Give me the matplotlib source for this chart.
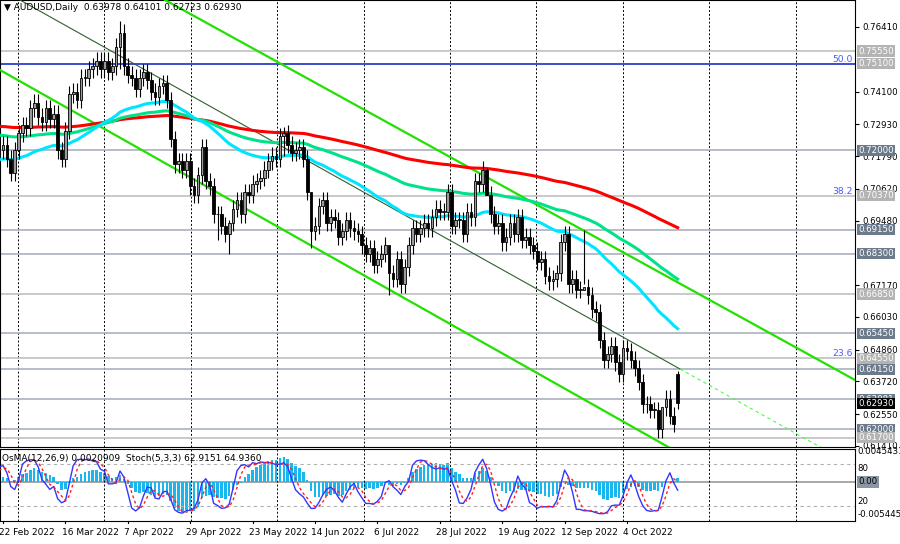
import numpy as np
import pandas as pd
import matplotlib
matplotlib.use("Agg")
import matplotlib.pyplot as plt
from matplotlib.patches import Rectangle

# ---------------- data ----------------
closes = [
 0.714,0.717,0.718,
 0.720,0.722,0.717,0.712,0.720,
 0.726,0.729,0.728,0.735,0.737,
 0.732,0.730,0.735,0.731,0.733,
 0.720,0.717,0.727,0.740,0.741,
 0.738,0.746,0.746,0.749,0.750,
 0.752,0.749,0.752,0.748,0.750,
 0.757,0.762,0.750,0.747,0.746,
 0.742,0.746,0.748,0.745,0.741,
 0.739,0.743,0.744,0.738,0.724,
 0.715,0.716,0.713,0.716,0.707,
 0.704,0.711,0.721,0.709,0.707,
 0.697,0.697,0.693,0.690,0.694,
 0.699,0.702,0.697,0.705,0.704,
 0.708,0.709,0.710,0.713,0.716,
 0.718,0.717,0.725,0.726,0.722,
 0.719,0.720,0.721,0.717,0.705,
 0.691,0.693,0.700,0.702,0.694,
 0.696,0.695,0.689,0.691,0.695,
 0.692,0.691,0.690,0.686,0.683,
 0.685,0.679,0.681,0.683,0.686,
 0.676,0.674,0.681,0.672,0.678,
 0.686,0.692,0.690,0.692,0.694,
 0.692,0.696,0.699,0.698,0.698,
 0.705,0.693,0.695,0.695,0.690,
 0.698,0.696,0.709,0.708,0.713,
 0.704,0.697,0.693,0.694,0.687,
 0.689,0.694,0.690,0.696,0.688,
 0.689,0.686,0.684,0.680,0.681,
 0.675,0.673,0.674,0.676,0.687,
 0.690,0.672,0.674,0.670,0.670,
 0.671,0.668,0.663,0.662,0.652,
 0.645,0.647,0.650,0.644,0.640,
 0.649,0.648,0.645,0.642,0.637,
 0.629,0.629,0.627,0.627,0.620,
 0.628,0.631,0.625,0.622,0.6293,
]
first_open = 0.712
last_ohlc = (0.63978, 0.64101, 0.62723, 0.62930)
wick_overrides = {34: (0.7661, 0.7490), 59: (0.7000, 0.6880), 62: (0.6950, 0.6829),
                  76: (0.7283, 0.7180), 83: (0.6920, 0.6850), 103: (0.6800, 0.6681),
                  128: (0.7137, 0.7040), 153: (0.6915, 0.6720), 173: (0.6280, 0.6170),
                  177: (0.64101, 0.62723)}

dates = pd.bdate_range("2022-02-16", periods=len(closes))
date_labels = ["22 Feb 2022","16 Mar 2022","7 Apr 2022","29 Apr 2022","23 May 2022",
               "14 Jun 2022","6 Jul 2022","28 Jul 2022","19 Aug 2022","12 Sep 2022","4 Oct 2022"]

price_ticks = [0.76410,0.74100,0.72930,0.71790,0.70620,0.69480,0.67170,0.66030,
               0.64860,0.63720,0.62550,0.61410]
levels_dark = [0.7200,0.6915,0.6830,0.6545,0.6415,0.63081,0.6200]
levels_light = [0.7555,0.7510,0.7037,0.6685,0.6455,0.6170]
fib = [("50.0",0.7510),("38.2",0.7037),("23.6",0.6455)]
ema_specs = [(200,0.729,"#ff0000"),(100,0.726,"#00e28a"),(50,0.7165,"#00e5ff")]

FS = 6.2

# --------------- derived OHLC ---------------
c = np.array(closes)
o = np.concatenate([[first_open], c[:-1]])
o[-1] = last_ohlc[0]
h = np.maximum(o, c) + 0.0030
l = np.minimum(o, c) - 0.0030
for k,(hh,ll) in wick_overrides.items():
    h[k] = hh; l[k] = ll
n = len(c); idx = np.arange(n)

def ema(x, span, seed):
    a = 2/(span+1); out = np.empty(len(x)); v = seed
    for i,val in enumerate(x):
        v = v + a*(val-v); out[i] = v
    return out

s = pd.Series(c)
macd = s.ewm(span=12, adjust=False).mean() - s.ewm(span=26, adjust=False).mean()
osma = (macd - macd.ewm(span=9, adjust=False).mean()).values
hh5 = pd.Series(h).rolling(5, min_periods=1).max(); ll5 = pd.Series(l).rolling(5, min_periods=1).min()
raw = 100*(s-ll5)/(hh5-ll5)
K = raw.rolling(3, min_periods=1).mean(); D = K.rolling(3, min_periods=1).mean()

# --------------- figure ---------------
W, H = 900, 544
plt.rcParams['font.family'] = ['DejaVu Sans']
fig = plt.figure(figsize=(9, 5.44), dpi=100)
ax = fig.add_axes([0, 1-447/H, 855/W, 447/H])
ax2 = fig.add_axes([0, 1-521/H, 855/W, 72/H])
px = 3.9
x0 = 4 - 3/px
xl = (x0, x0 + 855/px)
ylo, yhi = 0.7641-420/2793, 0.7641+27/2793
for a in (ax, ax2):
    a.set_xlim(*xl)
    for sp in a.spines.values(): sp.set_color("black"); sp.set_linewidth(0.8)
ax.set_ylim(ylo, yhi)

for gx in np.arange(18, 855, 86.4):
    xi = x0 + gx/px
    for a in (ax, ax2):
        a.axvline(xi, color="black", ls=(0,(2,2)), lw=0.7, zorder=0)

for lv in levels_dark + levels_light:
    ax.axhline(lv, color="#a9b2bc" if lv in levels_dark else "#c0c0c0", lw=1.2, zorder=1)
ax.axhline(0.7510, color="#3d4fd0", lw=1.4, zorder=1)
for t, v in fib:
    ax.text(853/px + x0, v, t, color="#4a5cff", fontsize=FS+0.5, ha="right", va="bottom")

def P(xp, yp):
    return x0 + xp/px, yhi - yp/2793
for (xa,ya,xb,yb) in [(0,70,670,448),(165,0,855,380)]:
    (a1,b1),(a2,b2) = P(xa,ya), P(xb,yb)
    ax.plot([a1,a2],[b1,b2], color="#22e000", lw=1.6, zorder=3)
(a1,b1),(a2,b2),(a3,b3) = P(20,0), P(680,369), P(822,448)
ax.plot([a1,a2],[b1,b2], color="#306030", lw=0.8, zorder=3)
ax.plot([a2,a3],[b2,b3], color="#44ff44", lw=0.8, ls=(0,(3,3)), zorder=3)

for span, seed, col in ema_specs:
    ax.plot(idx, ema(c, span, seed), color=col, lw=2.2, zorder=4)

for i in idx:
    up = c[i] >= o[i]
    ax.vlines(i, l[i], h[i], color="black", lw=0.8, zorder=5)
    lo, hi = min(o[i], c[i]), max(o[i], c[i])
    ax.add_patch(Rectangle((i-0.35, lo), 0.7, max(hi-lo, 0.0002),
                 facecolor="#9a9a9a" if up else "black", edgecolor="black", lw=0.6, zorder=6))

ax.set_xticks([])
ax.yaxis.tick_right()
ax.set_yticks(price_ticks)
ax.set_yticklabels([f"{t:.5f}" for t in price_ticks], fontsize=FS)
ax.tick_params(axis="y", length=3, pad=2)

def box(a, v, txt, fc, tc="white"):
    a.text(1.004, v, txt, transform=a.get_yaxis_transform(), fontsize=FS, color=tc,
           va="center", ha="left",
           bbox=dict(boxstyle="square,pad=0.12", fc=fc, ec="none"), zorder=10, clip_on=False)
for lv in levels_dark:
    box(ax, lv, f"{lv:.5f}", "#6c7b8b")
for lv in levels_light:
    box(ax, lv, f"{lv:.5f}", "#b4b4b4")
box(ax, 0.6293, "0.62930", "black")

ax.text(0.005, 0.993, "\u25BC AUDUSD,Daily  0.63978 0.64101 0.62723 0.62930",
        transform=ax.transAxes, fontsize=FS+0.3, va="top", ha="left", zorder=12)

# --------------- indicator panel ---------------
ax2.set_ylim(-2, 102)
ax2.axhline(80, color="#b0b0b0", ls=(0,(3,3)), lw=0.8)
ax2.axhline(20, color="#b0b0b0", ls=(0,(3,3)), lw=0.8)
ax3 = ax2.twinx()
ax3.set_xlim(*xl)
ax3.set_ylim(-0.0058, 0.0049)
ax3.axhline(0, color="#a0a0a0", lw=1.3, zorder=1)
ax3.bar(idx, osma, width=0.65, color="#1ab6ee", zorder=2)
ax3.set_zorder(ax2.get_zorder()-1); ax2.patch.set_visible(False)
ax2.plot(idx, K, color="#3535ff", lw=1.0, zorder=5)
ax2.plot(idx, D, color="#ff2020", lw=1.0, ls=(0,(2,2)), zorder=5)
ax2.set_yticks([]); ax3.set_yticks([])
for sp in ax3.spines.values(): sp.set_visible(False)
ax3.text(1.003, 0.0045431, "0.0045431", transform=ax3.get_yaxis_transform(), fontsize=FS,
         va="center", ha="left", clip_on=False)
ax3.text(1.003, -0.005445, "-0.005445", transform=ax3.get_yaxis_transform(), fontsize=FS,
         va="bottom", ha="left", clip_on=False)
ax2.text(1.003, 80, "80", transform=ax2.get_yaxis_transform(), fontsize=FS, va="top", ha="left")
ax2.text(1.003, 20, "20", transform=ax2.get_yaxis_transform(), fontsize=FS, va="bottom", ha="left")
box(ax3, 0.0, "0.00", "#8a96a4", tc="black")
ax2.text(0.002, 0.93, "OsMA(12,26,9) 0.0020909  Stoch(5,3,3) 62.9151 64.9360",
         transform=ax2.transAxes, fontsize=FS+0.3, va="top", ha="left", zorder=12)

ax2.set_xticks([])
for lab in date_labels:
    i = int(np.searchsorted(dates, pd.Timestamp(lab)))
    ax2.text(i - 1.0, -0.1, lab, transform=ax2.get_xaxis_transform(), fontsize=FS+0.3,
             va="top", ha="left", clip_on=False)
    ax2.plot([i, i], [-0.03, 0], transform=ax2.get_xaxis_transform(), color="black",
             lw=0.8, clip_on=False)

fig.savefig("out.png", dpi=100)
